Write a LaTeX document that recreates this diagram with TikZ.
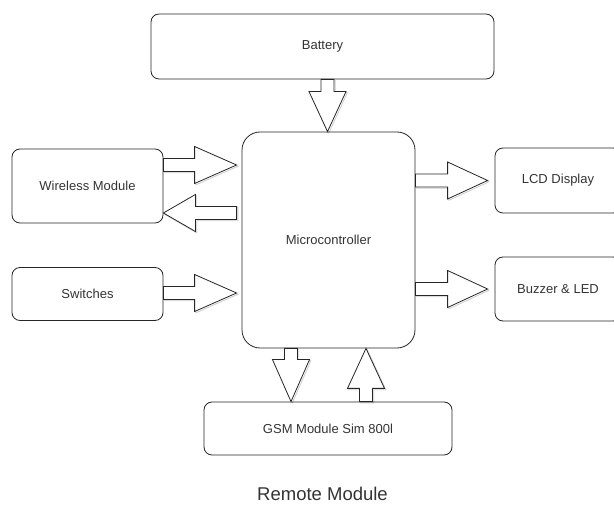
\documentclass[tikz,border=0pt]{standalone}
\usepackage{fontspec}
\setmainfont{Liberation Sans}
\usetikzlibrary{calc,backgrounds}
\tikzset{
  box/.style={draw=black!85, line width=0.8pt, rounded corners=8pt, inner sep=0pt,
    font=\fontsize{13}{15}\selectfont, text=black!80},
  arrmain/.style={draw=black!85, fill=white, line width=0.8pt, line join=miter},
  arrshadow/.style={draw=gray!40, line width=0.8pt, transform canvas={shift={(1.3pt,-1.3pt)}}},
  title/.style={font=\fontsize{18.5}{21}\selectfont, text=black!80, inner sep=0pt}
}
\newcommand\barrow[3][40pt]{%
  \path ($(#3)!#1!(#2)$) coordinate (bah);
  \path[arrshadow] ($(#2)!6.5pt!90:(#3)$) -- ($(bah)!6.5pt!90:(#3)$) -- ($(bah)!18.5pt!90:(#3)$) -- (#3) -- ($(bah)!18.5pt!-90:(#3)$) -- ($(bah)!6.5pt!-90:(#3)$) -- ($(#2)!6.5pt!-90:(#3)$) -- cycle;
  \path[arrmain] ($(#2)!6.5pt!90:(#3)$) -- ($(bah)!6.5pt!90:(#3)$) -- ($(bah)!18.5pt!90:(#3)$) -- (#3) -- ($(bah)!18.5pt!-90:(#3)$) -- ($(bah)!6.5pt!-90:(#3)$) -- ($(#2)!6.5pt!-90:(#3)$) -- cycle;
}
\begin{document}
\begin{tikzpicture}[x=1pt,y=-1pt]
\useasboundingbox (0,0) rectangle (614,505);
\clip (0,0) rectangle (614,505);

\node[box, minimum width=343pt, minimum height=65pt] (bat) at (322.5,46.5) {Battery};
\node[box, rounded corners=18pt, minimum width=173pt, minimum height=216pt] (mc) at (328.5,240) {Microcontroller};
\node[box, minimum width=151pt, minimum height=74pt] (wl) at (87.5,186) {Wireless Module};
\node[box, minimum width=151pt, minimum height=53pt] (sw) at (87.5,294) {Switches};
\node[box, minimum width=126pt, minimum height=65pt] (lcd) at (558,180.5) {LCD Display};
\node[box, minimum width=126pt, minimum height=64pt] (buz) at (558,289) {Buzzer \& LED};
\node[box, minimum width=248pt, minimum height=53pt] (gsm) at (328,428.5) {GSM Module Sim 800l};
\node[title] (ttl) at (322.5,494) {Remote Module};

\coordinate (b1) at ($(bat.south)+(5,0)$);
\coordinate (b2) at (b1 |- mc.north);
\coordinate (w1) at ($(wl.east)+(0,-21)$);
\coordinate (w2) at ($(w1 -| mc.west)+(-5,0)$);
\coordinate (w3) at ($(wl.east)+(0,27)$);
\coordinate (w4) at ($(w3 -| mc.west)+(-5,0)$);
\coordinate (s1) at ($(sw.east)+(0,-1)$);
\coordinate (s2) at ($(s1 -| mc.west)+(-5,0)$);
\coordinate (l2) at ($(lcd.west)+(-7,0)$);
\coordinate (l1) at (mc.east |- l2);
\coordinate (z2) at ($(buz.west)+(-7,0)$);
\coordinate (z1) at (mc.east |- z2);
\coordinate (g1) at ($(gsm.north)+(-37,0)$);
\coordinate (g0) at (g1 |- mc.south);
\coordinate (g2) at ($(gsm.north)+(38,0)$);
\coordinate (g3) at (g2 |- mc.south);

\begin{pgfonlayer}{background}
\barrow{b1}{b2}
\barrow[42pt]{w1}{w2}
\barrow[32pt]{w4}{w3}
\barrow[42pt]{s1}{s2}
\barrow{l1}{l2}
\barrow{z1}{z2}
\barrow[42pt]{g0}{g1}
\barrow{g2}{g3}
\end{pgfonlayer}
\end{tikzpicture}
\end{document}
